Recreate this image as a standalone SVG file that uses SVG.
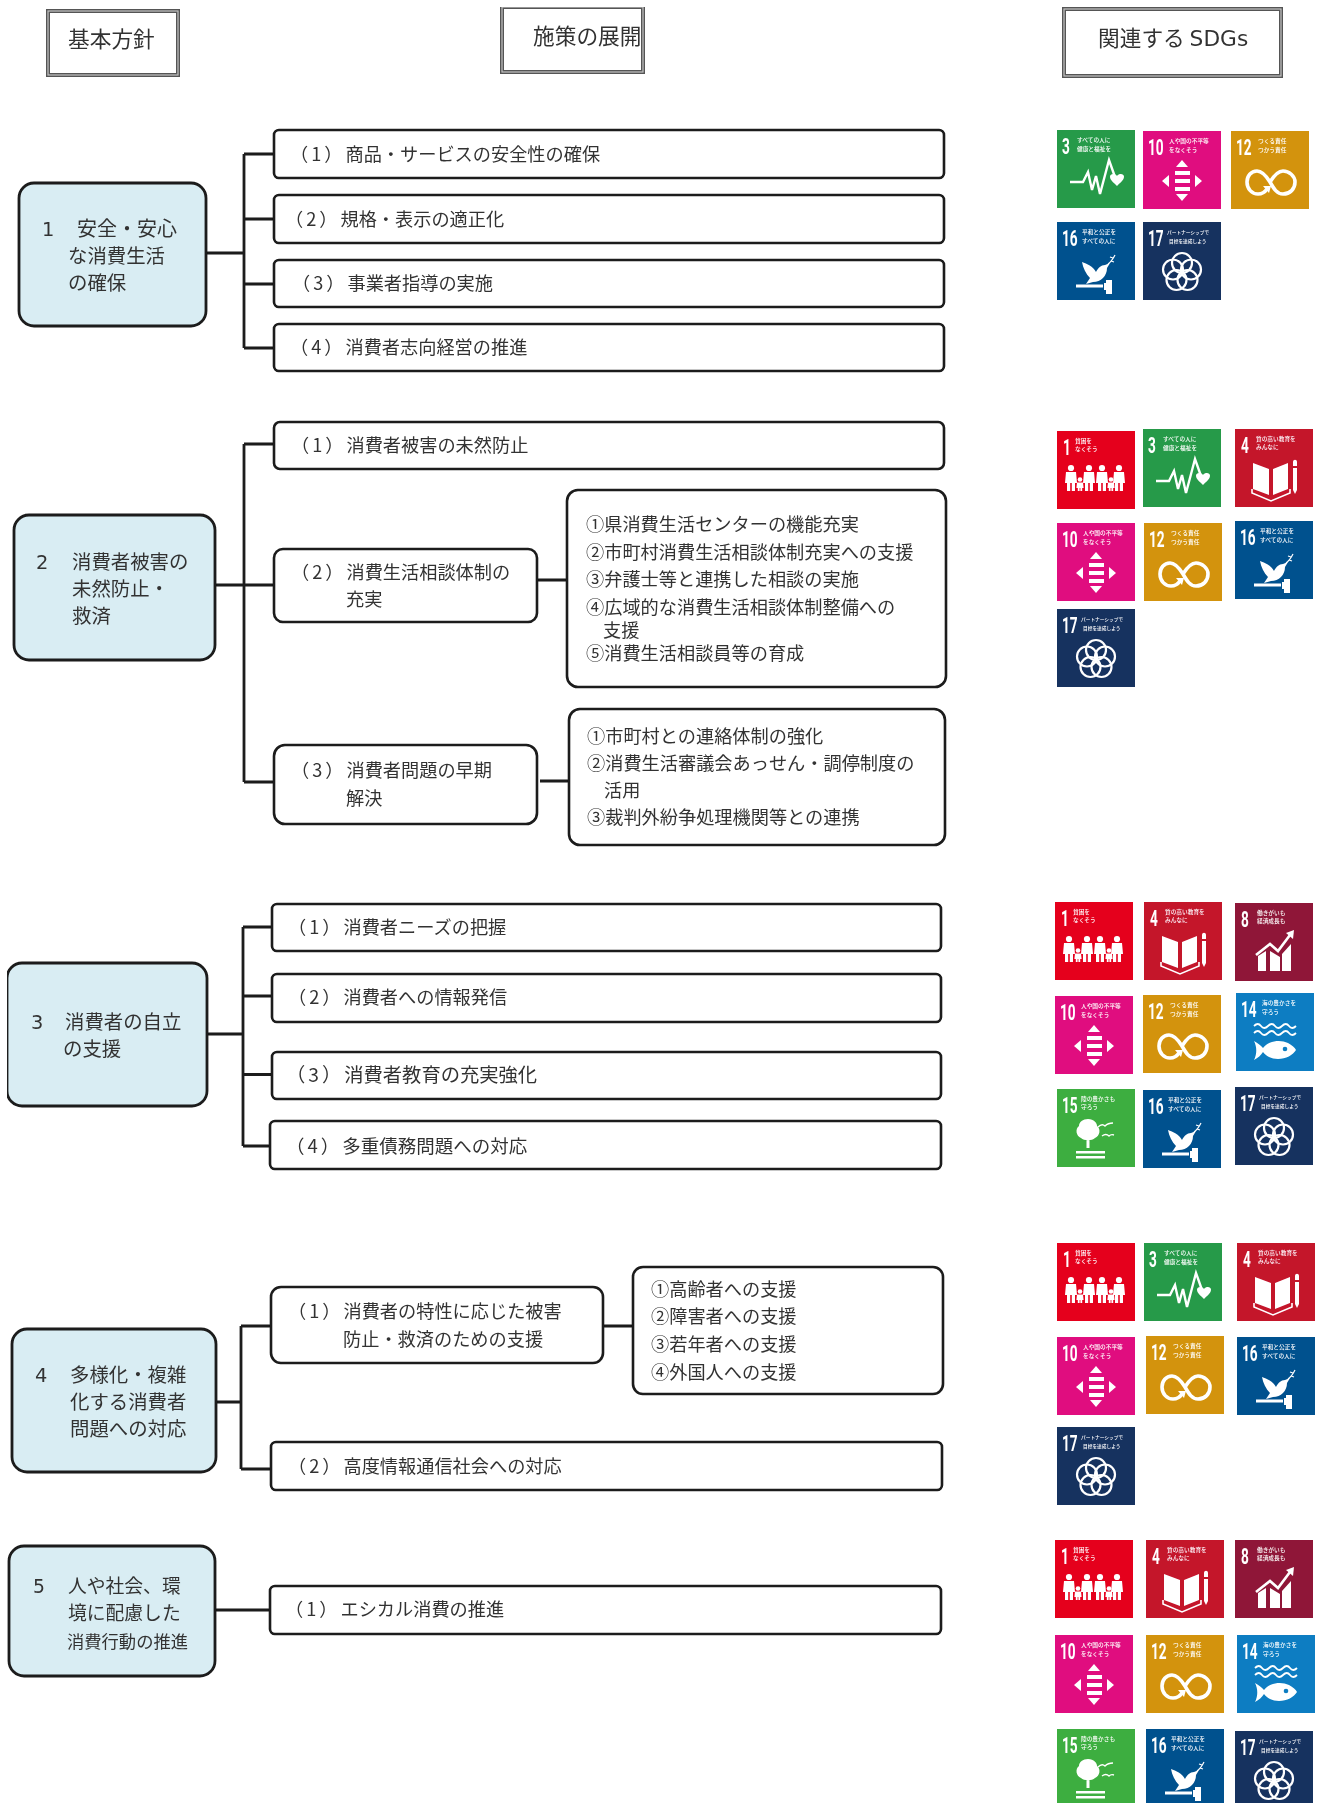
<svg xmlns="http://www.w3.org/2000/svg" width="1318" height="1803" viewBox="0 0 1318 1803">
<style>
text{font-family:"Noto Sans CJK JP","Noto Sans",sans-serif}
.t{font-size:18.2px;fill:#333}
.m{font-size:19.4px;fill:#333}
.h{font-size:21.7px;fill:#333}
.p{letter-spacing:3px}
.n{font-family:"DejaVu Sans",sans-serif}
.box{fill:#fff;stroke:#1a1a1a;stroke-width:2.6}
.main{fill:#d9edf3;stroke:#1a1a1a;stroke-width:2.8}
.ho{fill:#fff;stroke:#555;stroke-width:4}
.hi{fill:none;stroke:#c4c4c4;stroke-width:1.2}
.conn{fill:none;stroke:#1a1a1a;stroke-width:2.8}
.num{font-family:"Roboto",sans-serif;font-weight:700;font-size:22px;fill:#fff}
.sub{font-size:5.7px;font-weight:500;fill:#fff}
.sm{font-size:4.7px}
.w{fill:#fff}
.l{fill:none;stroke:#fff}
</style>
<defs>
<filter id="soft" x="0" y="0" width="100%" height="100%"><feGaussianBlur stdDeviation="0.35"/></filter>
<g id="person"><circle cx="0" cy="-23" r="3.1" class="w"/><path class="w" d="M-5 -19H5L6 -8H4V0H0.8V-8H-0.8V0H-4V-8H-6Z"/></g>
<g id="kid"><circle cx="0" cy="-11.500" r="2.300" class="w"/><path class="w" d="M-3 -8.500H3L3.600 -3H2.200V0H0.400V-3H-0.400V0H-2.200V-3H-3.600Z"/></g>
<symbol id="sdg1" viewBox="0 0 78 78" width="78" height="78"><rect width="78" height="78" fill="#e5001e"/><text class="num" transform="translate(6 24) scale(.62 1)">1</text><text class="sub" x="18" y="11.500">貧困を</text><text class="sub" x="18" y="20">なくそう</text><use href="#person" x="14" y="60"/><use href="#kid" x="23" y="60"/><use href="#person" x="32" y="60"/><use href="#person" x="45" y="60"/><use href="#kid" x="54" y="60"/><use href="#person" x="62" y="60"/></symbol>
<symbol id="sdg3" viewBox="0 0 78 78" width="78" height="78"><rect width="78" height="78" fill="#259a48"/><text class="num" transform="translate(5 24) scale(.62 1)">3</text><text class="sub" x="20" y="12">すべての人に</text><text class="sub" x="20" y="21">健康と福祉を</text><path class="l" stroke-width="2.400" d="M13 52H26L31 42L35 60L39 46L43 64L52 30L58 47"/><path class="w" d="M60 56C56 52 53 50 53 46.500C53 43.500 58 43 60 46C62 43 67 43.500 67 46.500C67 50 64 52 60 56Z"/></symbol>
<symbol id="sdg4" viewBox="0 0 78 78" width="78" height="78"><rect width="78" height="78" fill="#c4122c"/><text class="num" transform="translate(6 24) scale(.62 1)">4</text><text class="sub" x="21" y="11.500">質の高い教育を</text><text class="sub" x="21" y="20">みんなに</text><path class="w" d="M18 34L34 40V66L18 60ZM38 40L53 34V60L38 66Z"/><path class="l" stroke-width="1.600" d="M17 60V64L36 72L55 64V60"/><path class="w" d="M58 39H62V61L60 65L58 61ZM58 33C58 30 62 30 62 33V37H58Z"/></symbol>
<symbol id="sdg8" viewBox="0 0 78 78" width="78" height="78"><rect width="78" height="78" fill="#8f1838"/><text class="num" transform="translate(6 24) scale(.62 1)">8</text><text class="sub" x="22" y="11.500">働きがいも</text><text class="sub" x="22" y="20">経済成長も</text><path class="w" d="M23 53L31 48V68H23ZM35 48L45 54V68H35ZM47 51L56 41V68H47Z"/><path class="l" stroke-width="2.600" d="M21 52L35 41L43 48L55 32"/><path class="w" d="M51 30L59 27L58 36Z"/></symbol>
<symbol id="sdg10" viewBox="0 0 78 78" width="78" height="78"><rect width="78" height="78" fill="#e0117f"/><text class="num" transform="translate(5 24) scale(.62 1)">10</text><text class="sub" x="26" y="12">人や国の不平等</text><text class="sub" x="26" y="21">をなくそう</text><path class="w" d="M39 29L45 36H33ZM39 70L45 63H33ZM19 50L26 44V56ZM59 50L52 44V56ZM32 40H47V44H32ZM32 48H47V52H32ZM32 56H47V60H32Z"/></symbol>
<symbol id="sdg12" viewBox="0 0 78 78" width="78" height="78"><rect width="78" height="78" fill="#d3930c"/><text class="num" transform="translate(5 24) scale(.62 1)">12</text><text class="sub" x="27" y="12">つくる責任</text><text class="sub" x="27" y="21">つかう責任</text><path class="l" stroke-width="3.600" d="M39 51C34 43 30 40 26 40C20 40 16 45 16 51C16 58 21 63 27 63C31 63 34 61 36 58M39 51C44 43 48 40 52 40C58 40 64 45 64 51C64 58 59 63 52 63C46 63 43 58 39 51"/><path class="w" d="M32 55L40 55L38 62Z"/></symbol>
<symbol id="sdg14" viewBox="0 0 78 78" width="78" height="78"><rect width="78" height="78" fill="#0a7dc2"/><text class="num" transform="translate(5 24) scale(.62 1)">14</text><text class="sub" x="26" y="12">海の豊かさを</text><text class="sub" x="26" y="20.500">守ろう</text><path class="l" stroke-width="1.800" d="M18 33Q22 29 25 33T32 33T39 33T46 33T53 33T60 33M18 40Q22 36 25 40T32 40T39 40T46 40T53 40T60 40"/><path class="w" d="M18 48C22 50 25 53 27 55C32 48 44 46 52 50C56 52 59 55 60 57C57 62 50 66 42 66C35 66 30 63 27 59C25 62 22 65 18 67C21 61 21 54 18 48Z"/><circle cx="49" cy="56" r="2.300" fill="#0a7dc2"/></symbol>
<symbol id="sdg15" viewBox="0 0 78 78" width="78" height="78"><rect width="78" height="78" fill="#3eae3f"/><text class="num" transform="translate(5 24) scale(.62 1)">15</text><text class="sub" x="24" y="11.500">陸の豊かさも</text><text class="sub" x="24" y="20">守ろう</text><path class="w" d="M31 30C37 30 40 34 40 37C44 40 43 47 38 49C35 52 27 52 24 49C19 47 18 40 22 37C22 33 26 30 31 30ZM29.500 50H32.500V59H29.500ZM19 62H48V64.500H19ZM19 67H48V69.500H19Z"/><path class="l" stroke-width="1.400" d="M41 38Q45 34 48 37Q51 34 56 34M45 47Q49 44 52 47Q54 45 57 46"/></symbol>
<symbol id="sdg16" viewBox="0 0 78 78" width="78" height="78"><rect width="78" height="78" fill="#02518e"/><text class="num" transform="translate(5 24) scale(.62 1)">16</text><text class="sub" x="25" y="12">平和と公正を</text><text class="sub" x="25" y="21">すべての人に</text><path class="w" d="M25 40C30 42 36 44 39 50C41 46 44 43 48 43L53 41L50 46C50 54 44 60 36 60L29 62L33 56C29 52 26 46 25 40Z"/><path class="l" stroke-width="1.200" d="M51 42C54 40 56 37 58 33M54 39L57 40M56 36L53 35"/><path class="w" d="M19 62.500H46V65.500H19ZM47 61H49V58H55V72H49V68H47Z"/></symbol>
<symbol id="sdg17" viewBox="0 0 78 78" width="78" height="78"><rect width="78" height="78" fill="#16315f"/><text class="num" transform="translate(5 24) scale(.62 1)">17</text><text class="sub sm" x="24" y="12">パートナーシップで</text><text class="sub sm" x="26" y="21">目標を達成しよう</text><g class="l" stroke-width="2.200"><circle cx="39" cy="41" r="10"/><circle cx="48" cy="47.500" r="10"/><circle cx="44.500" cy="58" r="10"/><circle cx="33.500" cy="58" r="10"/><circle cx="30" cy="47.500" r="10"/></g></symbol>
</defs>
<rect width="1318" height="1803" fill="#fff"/>
<g filter="url(#soft)">
<g id="connectors">
<path class="conn" d="M206 253H244M244 154V348M244 154H274M244 219H274M244 284H274M244 348H274"/>
<path class="conn" d="M215 585H274M244 444V782M244 444H274M244 782H274M538 580H567M540 781H569"/>
<path class="conn" d="M207 1034H243M243 927V1146M243 927H272M243 996H272M243 1074.500H272M243 1146H270"/>
<path class="conn" d="M216 1402H241M241 1326V1469M241 1326H272M241 1469H271M603 1326H633"/>
<path class="conn" d="M216 1610H270"/>
</g>
<g id="header-1"><rect class="ho" x="48" y="11" width="130" height="64"/><rect class="hi" x="48" y="11" width="130" height="64"/><text class="h" x="68" y="47">基本方針</text></g>
<g id="header-2"><rect class="ho" x="502" y="7" width="141" height="65"/><rect class="hi" x="502" y="7" width="141" height="65"/><text class="h" x="533" y="44">施策の展開</text></g>
<g id="header-3"><rect class="ho" x="1064" y="9" width="217" height="67"/><rect class="hi" x="1064" y="9" width="217" height="67"/><text class="h" x="1098" y="46">関連する <tspan class="n">SDGs</tspan></text></g>

<g id="policy-1"><rect class="main" x="19" y="183" width="187" height="143" rx="15"/><text class="m" x="42" y="236"><tspan class="n">1</tspan> <tspan x="77" style="font-size:20px">安全・安心</tspan></text><text class="m" x="68" y="263">な消費生活</text><text class="m" x="68" y="290">の確保</text></g>
<g id="measure-1-1"><rect class="box" x="274" y="130" width="670" height="48" rx="5"/><text class="t" x="290" y="161"><tspan class="p">（1）</tspan>商品・サービスの安全性の確保</text></g>
<g id="measure-1-2"><rect class="box" x="274" y="195" width="670" height="48" rx="5"/><text class="t" x="285" y="226"><tspan class="p">（2）</tspan>規格・表示の適正化</text></g>
<g id="measure-1-3"><rect class="box" x="274" y="260" width="670" height="47" rx="5"/><text class="t" x="292" y="290"><tspan class="p">（3）</tspan>事業者指導の実施</text></g>
<g id="measure-1-4"><rect class="box" x="274" y="324" width="670" height="47" rx="5"/><text class="t" x="290" y="354"><tspan class="p">（4）</tspan>消費者志向経営の推進</text></g>

<g id="policy-2"><rect class="main" x="14" y="515" width="201" height="145" rx="15"/><text class="m" x="36" y="569"><tspan class="n">2</tspan> <tspan x="72">消費者被害の</tspan></text><text class="m" x="72" y="596">未然防止・</text><text class="m" x="72" y="623">救済</text></g>
<g id="measure-2-1"><rect class="box" x="274" y="422" width="670" height="47" rx="6"/><text class="t" x="291" y="452"><tspan class="p">（1）</tspan>消費者被害の未然防止</text></g>
<g id="measure-2-2"><rect class="box" x="274" y="549" width="263" height="73" rx="9"/><text class="t" x="291" y="579"><tspan class="p">（2）</tspan>消費生活相談体制の</text><text class="t" x="346" y="606">充実</text></g>
<g id="detail-2-2"><rect class="box" x="567" y="490" width="379" height="197" rx="11"/><text class="t" x="586" y="531">①県消費生活センターの機能充実</text><text class="t" x="586" y="559">②市町村消費生活相談体制充実への支援</text><text class="t" x="586" y="586">③弁護士等と連携した相談の実施</text><text class="t" x="586" y="614">④広域的な消費生活相談体制整備への</text><text class="t" x="603" y="637">支援</text><text class="t" x="586" y="660">⑤消費生活相談員等の育成</text></g>
<g id="measure-2-3"><rect class="box" x="274" y="745" width="263" height="79" rx="11"/><text class="t" x="291" y="777"><tspan class="p">（3）</tspan>消費者問題の早期</text><text class="t" x="346" y="805">解決</text></g>
<g id="detail-2-3"><rect class="box" x="569" y="709" width="376" height="136" rx="11"/><text class="t" x="587" y="743">①市町村との連絡体制の強化</text><text class="t" x="587" y="770">②消費生活審議会あっせん・調停制度の</text><text class="t" x="604" y="797">活用</text><text class="t" x="587" y="824">③裁判外紛争処理機関等との連携</text></g>

<g id="policy-3"><rect class="main" x="7" y="963" width="200" height="143" rx="15"/><text class="m" x="31" y="1029"><tspan class="n">3</tspan> <tspan x="65">消費者の自立</tspan></text><text class="m" x="63" y="1056">の支援</text></g>
<g id="measure-3-1"><rect class="box" x="272" y="904" width="669" height="47" rx="5"/><text class="t" x="288" y="934"><tspan class="p">（1）</tspan>消費者ニーズの把握</text></g>
<g id="measure-3-2"><rect class="box" x="272" y="974" width="669" height="48" rx="5"/><text class="t" x="288" y="1004"><tspan class="p">（2）</tspan>消費者への情報発信</text></g>
<g id="measure-3-3"><rect class="box" x="272" y="1052" width="669" height="47" rx="5"/><text class="t" x="286" y="1082" style="font-size:19.300px"><tspan class="p">（3）</tspan>消費者教育の充実強化</text></g>
<g id="measure-3-4"><rect class="box" x="270" y="1121" width="671" height="48" rx="5"/><text class="t" x="286" y="1153" style="font-size:18.500px"><tspan class="p">（4）</tspan>多重債務問題への対応</text></g>

<g id="policy-4"><rect class="main" x="12" y="1329" width="204" height="143" rx="15"/><text class="m" x="35" y="1382"><tspan class="n">4</tspan> <tspan x="70">多様化・複雑</tspan></text><text class="m" x="70" y="1409">化する消費者</text><text class="m" x="70" y="1436">問題への対応</text></g>
<g id="measure-4-1"><rect class="box" x="271" y="1287" width="332" height="76" rx="10"/><text class="t" x="288" y="1318"><tspan class="p">（1）</tspan>消費者の特性に応じた被害</text><text class="t" x="343" y="1346">防止・救済のための支援</text></g>
<g id="detail-4-1"><rect class="box" x="633" y="1267" width="310" height="127" rx="10"/><text class="t" x="651" y="1296">①高齢者への支援</text><text class="t" x="651" y="1323">②障害者への支援</text><text class="t" x="651" y="1351">③若年者への支援</text><text class="t" x="651" y="1379">④外国人への支援</text></g>
<g id="measure-4-2"><rect class="box" x="271" y="1442" width="671" height="48" rx="5"/><text class="t" x="288" y="1473"><tspan class="p">（2）</tspan>高度情報通信社会への対応</text></g>

<g id="policy-5"><rect class="main" x="9" y="1546" width="206" height="130" rx="15"/><text class="m" x="33" y="1593" style="font-size:18.800px"><tspan class="n">5</tspan> <tspan x="68">人や社会、環</tspan></text><text class="m" x="68" y="1620" style="font-size:18.800px">境に配慮した</text><text class="m" x="67" y="1648" style="font-size:17.300px">消費行動の推進</text></g>
<g id="measure-5-1"><rect class="box" x="270" y="1586" width="671" height="48" rx="5"/><text class="t" x="285" y="1616"><tspan class="p">（1）</tspan>エシカル消費の推進</text></g>

<g id="sdgs-1">
<use href="#sdg3" x="1057" y="130"/><use href="#sdg10" x="1143" y="131"/><use href="#sdg12" x="1231" y="131"/><use href="#sdg16" x="1057" y="222"/><use href="#sdg17" x="1143" y="222"/>
</g>
<g id="sdgs-2">
<use href="#sdg1" x="1057" y="431"/><use href="#sdg3" x="1143" y="429"/><use href="#sdg4" x="1235" y="429"/><use href="#sdg10" x="1057" y="523"/><use href="#sdg12" x="1144" y="523"/><use href="#sdg16" x="1235" y="521"/><use href="#sdg17" x="1057" y="609"/>
</g>
<g id="sdgs-3">
<use href="#sdg1" x="1055" y="902"/><use href="#sdg4" x="1144" y="902"/><use href="#sdg8" x="1235" y="903"/><use href="#sdg10" x="1055" y="996"/><use href="#sdg12" x="1143" y="995"/><use href="#sdg14" x="1236" y="993"/><use href="#sdg15" x="1057" y="1089"/><use href="#sdg16" x="1143" y="1090"/><use href="#sdg17" x="1235" y="1087"/>
</g>
<g id="sdgs-4">
<use href="#sdg1" x="1057" y="1243"/><use href="#sdg3" x="1144" y="1243"/><use href="#sdg4" x="1237" y="1243"/><use href="#sdg10" x="1057" y="1337"/><use href="#sdg12" x="1146" y="1336"/><use href="#sdg16" x="1237" y="1337"/><use href="#sdg17" x="1057" y="1427"/>
</g>
<g id="sdgs-5">
<use href="#sdg1" x="1055" y="1540"/><use href="#sdg4" x="1146" y="1540"/><use href="#sdg8" x="1235" y="1540"/><use href="#sdg10" x="1055" y="1635"/><use href="#sdg12" x="1146" y="1635"/><use href="#sdg14" x="1237" y="1635"/><use href="#sdg15" x="1057" y="1729"/><use href="#sdg16" x="1146" y="1729"/><use href="#sdg17" x="1235" y="1731"/>
</g>
</g>
</svg>
